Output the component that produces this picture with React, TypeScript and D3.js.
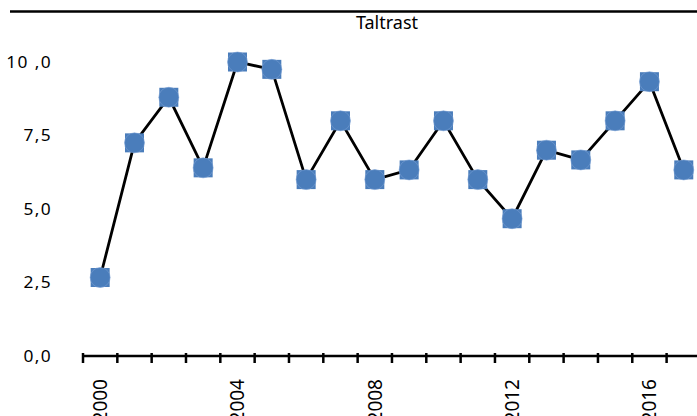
import React from "react";
import * as d3 from "d3";

const years = [2000, 2001, 2002, 2003, 2004, 2005, 2006, 2007, 2008, 2009, 2010, 2011, 2012, 2013, 2014, 2015, 2016, 2017];
const values = [2.67, 7.25, 8.8, 6.4, 10, 9.75, 6, 8, 6, 6.33, 8, 6, 4.67, 7, 6.67, 8, 9.33, 6.33];
const yTicks = [0, 2.5, 5, 7.5, 10];
const yTickLabels = ["0,0", "2,5", "5,0", "7,5", "10 ,0"];
const xLabelYears = [2000, 2004, 2008, 2012, 2016];
const title = "Taltrast";

export default function App() {
  const W = 697, H = 416;
  const x = d3.scaleBand<number>().domain(years).range([83, 83 + 18 * 34.33]).padding(0);
  const y = d3.scaleLinear().domain([0, 10]).range([356, 62]);
  const line = d3.line<number>().x((_, i) => (x(years[i]) as number) + x.bandwidth() / 2).y((d) => y(d));
  const tickXs = years.map((yr) => x(yr) as number).concat([(x(years[years.length - 1]) as number) + x.bandwidth()]);
  const blue = "#4a7dbb";
  return (
    <svg width={W} height={H} style={{ position: "absolute", left: 0, top: 0, background: "#fff" }}>
      <line x1={10} x2={W} y1={11.5} y2={11.5} stroke="#000" strokeWidth={2.5} />
      <text x={387} y={29} textAnchor="middle" fontFamily="Noto Sans" fontSize={18} fill="#000">{title}</text>
      {yTicks.map((t, i) => (
        <text key={t} transform={`translate(52,${y(t) + 5.5}) scale(1.12,1)`} textAnchor="end" fontFamily="Noto Sans" fontSize={15.5} letterSpacing={1.2} fill="#000">{yTickLabels[i]}</text>
      ))}
      <line x1={83} x2={W} y1={356} y2={356} stroke="#000" strokeWidth={2.5} />
      {tickXs.map((tx, i) => (
        <line key={i} x1={tx} x2={tx} y1={353} y2={363} stroke="#000" strokeWidth={2.5} />
      ))}
      {xLabelYears.map((yr) => {
        const cx = (x(yr) as number) + x.bandwidth() / 2;
        return (
          <text key={yr} transform={`translate(${cx},379) rotate(-90)`} textAnchor="end" dy="0.36em" fontFamily="Noto Sans" fontSize={19} fill="#000">{yr}</text>
        );
      })}
      <path d={line(values) || ""} fill="none" stroke="#000" strokeWidth={2.8} />
      {values.map((v, i) => {
        const cx = (x(years[i]) as number) + x.bandwidth() / 2;
        const cy = y(v);
        return (
          <g key={i}>
            <rect x={cx - 9.5} y={cy - 9.5} width={19} height={19} fill={blue} />
            <circle cx={cx} cy={cy} r={10} fill={blue} stroke="#7aa0d4" strokeWidth={0.8} strokeOpacity={0.7} />
          </g>
        );
      })}
    </svg>
  );
}
